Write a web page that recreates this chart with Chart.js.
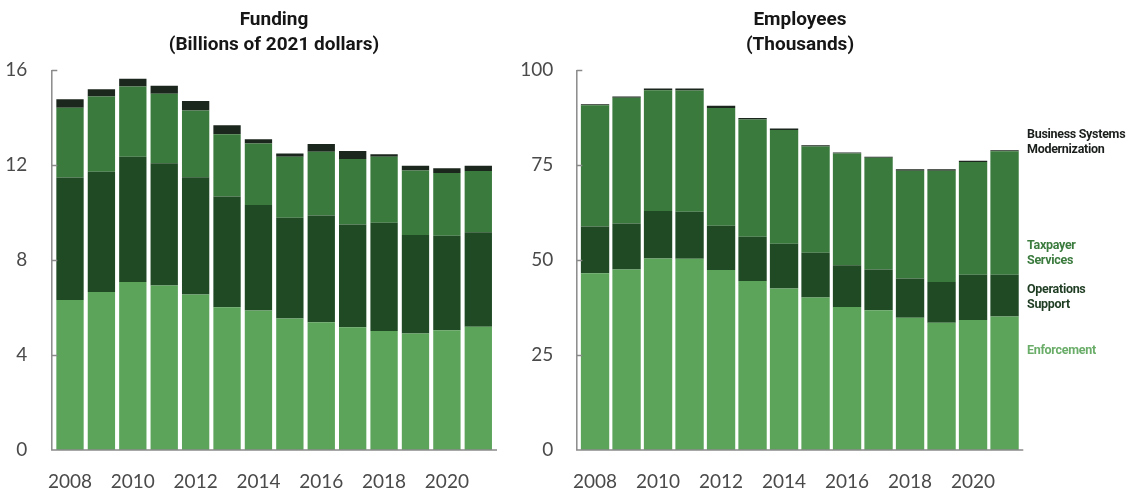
<!DOCTYPE html>
<html>
<head>
<meta charset="utf-8">
<title>IRS funding and employees</title>
<script src="https://cdn.jsdelivr.net/npm/chart.js@4/dist/chart.umd.min.js"></script>
<style>
  body { margin: 0; background: #fff; font-family: Roboto, sans-serif; }
  #wrap { position: relative; width: 1130px; height: 498px; overflow: hidden; }
  .panel { position: absolute; top: 0; height: 498px; }
  .title { position: absolute; top: 6px; width: 300px; text-align: center; font-weight: 700; font-size: 19px; line-height: 25px; color: #161616; }
  .lbl { position: absolute; left: 1027px; font-weight: 700; font-size: 12.5px; line-height: 15px; letter-spacing: -0.3px; white-space: nowrap; }
</style>
</head>
<body>
<div id="wrap">
  <div class="panel" style="left:0;width:520px"><canvas id="funding"></canvas></div>
  <div class="panel" style="left:520px;width:610px"><canvas id="employees"></canvas></div>
  <div class="title" style="left:124px">Funding<br>(Billions of 2021 dollars)</div>
  <div class="title" style="left:650px">Employees<br>(Thousands)</div>
  <div class="lbl" style="top:126px;color:#1b1f1c">Business Systems<br>Modernization</div>
  <div class="lbl" style="top:237px;color:#3b7b3e">Taxpayer<br>Services</div>
  <div class="lbl" style="top:281px;color:#1f3d23">Operations<br>Support</div>
  <div class="lbl" style="top:342px;color:#69ad68">Enforcement</div>
</div>
<script>
const years = ['2008','2009','2010','2011','2012','2013','2014','2015','2016','2017','2018','2019','2020','2021'];

// funding, billions of 2021 dollars
const fundEnforcement = [6.32, 6.65, 7.07, 6.93, 6.55, 6.01, 5.87, 5.54, 5.38, 5.17, 5.01, 4.91, 5.04, 5.19];
const fundOperations  = [5.15, 5.07, 5.28, 5.14, 4.93, 4.66, 4.45, 4.24, 4.49, 4.32, 4.56, 4.14, 3.98, 3.98];
const fundTaxpayer    = [2.94, 3.16, 2.96, 2.93, 2.81, 2.62, 2.59, 2.57, 2.69, 2.76, 2.78, 2.72, 2.64, 2.58];
const fundBSM         = [0.36, 0.31, 0.32, 0.34, 0.40, 0.38, 0.17, 0.13, 0.32, 0.34, 0.10, 0.20, 0.20, 0.22];

// employees, thousands
const empEnforcement = [46.5, 47.5, 50.4, 50.3, 47.4, 44.5, 42.5, 40.1, 37.6, 36.8, 34.8, 33.5, 34.2, 35.1];
const empOperations  = [12.3, 12.1, 12.5, 12.4, 11.6, 11.6, 11.8, 11.8, 11.0, 10.7, 10.3, 10.7, 11.9, 11.0];
const empTaxpayer    = [31.9, 33.1, 31.8, 31.9, 31.0, 30.9, 29.9, 28.0, 29.4, 29.4, 28.4, 29.3, 29.7, 32.5];
const empBSM         = [0.3, 0.3, 0.4, 0.5, 0.6, 0.4, 0.4, 0.3, 0.3, 0.3, 0.4, 0.4, 0.3, 0.3];

const fundTicks = [0, 4, 8, 12, 16];
const empTicks = [0, 25, 50, 75, 100];

const colors = {
  enforcement: '#5ba45a',
  operations: '#1f4a24',
  taxpayer: '#3a7b3d',
  bsm: '#1b261d'
};

// axis lines plus short inward ticks
const axisPlugin = {
  id: 'axisLines',
  afterDatasetsDraw(chart) {
    const { ctx, chartArea: a, scales: { y } } = chart;
    ctx.save();
    ctx.strokeStyle = '#8a8a8a';
    ctx.lineWidth = 1.5;
    ctx.beginPath();
    ctx.moveTo(a.left - 2.5, y.getPixelForValue(y.max));
    ctx.lineTo(a.left - 2.5, a.bottom);
    ctx.lineTo(a.right + 3, a.bottom);
    y.ticks.forEach(t => {
      if (t.value === 0) return;
      const py = Math.round(y.getPixelForValue(t.value)) + 0.5;
      ctx.moveTo(a.left - 2.5, py);
      ctx.lineTo(a.left + 3, py);
    });
    ctx.stroke();
    ctx.restore();
  }
};

function makeChart(id, sets, ticks, yWidth, padRight, barPct, labelPad) {
  const names = ['Enforcement', 'Operations Support', 'Taxpayer Services', 'Business Systems Modernization'];
  const cols = [colors.enforcement, colors.operations, colors.taxpayer, colors.bsm];
  return new Chart(document.getElementById(id), {
    type: 'bar',
    data: {
      labels: years,
      datasets: sets.map((d, i) => ({
        label: names[i],
        data: d,
        backgroundColor: cols[i],
        borderWidth: 0,
        categoryPercentage: 1,
        barPercentage: barPct
      }))
    },
    options: {
      responsive: true,
      maintainAspectRatio: false,
      animation: false,
      layout: { padding: { top: 70, right: padRight, left: 0, bottom: 0 } },
      plugins: { legend: { display: false }, tooltip: { enabled: false } },
      scales: {
        x: {
          stacked: true,
          grid: { display: false, drawTicks: false },
          border: { display: false },
          afterFit(s) { s.height = 48; },
          ticks: {
            autoSkip: false,
            maxRotation: 0,
            padding: 20,
            color: '#4a4a4a',
            font: { family: 'Lato', size: 19 },
            callback(v, i) { return i % 2 === 0 ? years[i] : ''; }
          }
        },
        y: {
          stacked: true,
          min: ticks[0],
          max: ticks[ticks.length - 1],
          afterBuildTicks(s) { s.ticks = ticks.map(v => ({ value: v })); },
          afterFit(s) { s.width = yWidth; },
          grid: { display: false, drawTicks: false },
          border: { display: false },
          ticks: {
            padding: labelPad,
            color: '#4a4a4a',
            font: { family: 'Lato', size: 19 }
          }
        }
      }
    },
    plugins: [axisPlugin]
  });
}

makeChart('funding', [fundEnforcement, fundOperations, fundTaxpayer, fundBSM], fundTicks, 54.3, 26, 0.87, 27);
makeChart('employees', [empEnforcement, empOperations, empTaxpayer, empBSM], empTicks, 59.3, 109.7, 0.9, 26);
</script>
</body>
</html>
